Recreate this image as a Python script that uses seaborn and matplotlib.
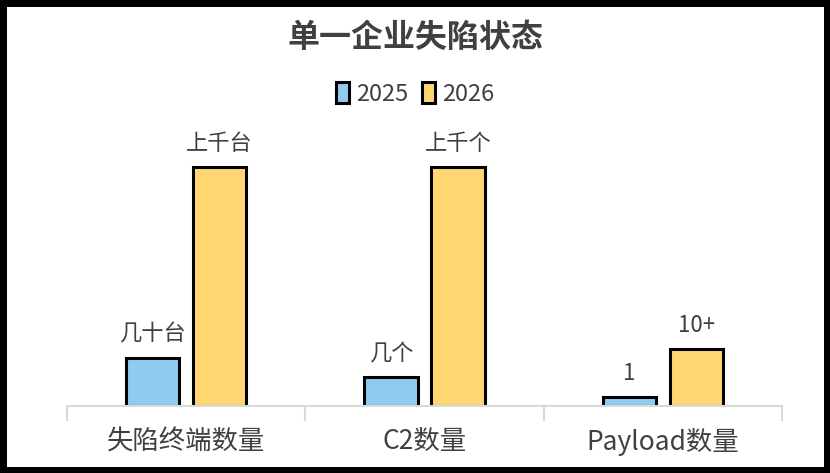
import matplotlib
matplotlib.use('Agg')
import matplotlib.pyplot as plt
import pandas as pd
import seaborn as sns


categories = ['失陷终端数量', 'C2数量', 'Payload数量']
years = ['2025', '2026']
values_2025 = [48, 29, 9]
values_2026 = [239, 239, 57]
labels_2025 = ['几十台', '几个', '1']
labels_2026 = ['上千台', '上千个', '10+']
colors = ['#8FCBEE', '#FFD772']


df = pd.DataFrame({
    'category': categories * 2,
    'year': [years[0]] * 3 + [years[1]] * 3,
    'value': values_2025 + values_2026,
})

sns.set_theme(style='white')
plt.rcParams['font.family'] = ['Noto Sans CJK SC', 'DejaVu Sans']
text_color = '#404040'

fig = plt.figure(figsize=(8.3, 4.73), dpi=100, edgecolor='black', linewidth=8)
ax = fig.add_axes([67 / 830, 67 / 473, 715 / 830, 250 / 473])

sns.barplot(data=df, x='category', y='value', hue='year', hue_order=years,
            palette=colors, width=0.56, gap=0.2, edgecolor='black',
            linewidth=2.2, saturation=1, ax=ax)

for container, labs in zip(ax.containers, [labels_2025, labels_2026]):
    ax.bar_label(container, labels=labs, padding=9, fontsize=16, color=text_color)

ax.set_xlim(-0.5, 2.5)
ax.set_ylim(0, 250)
ax.set_xlabel('')
ax.set_ylabel('')
ax.set_yticks([])
for side in ['top', 'right', 'left']:
    ax.spines[side].set_visible(False)
ax.spines['bottom'].set_color('#D9D9D9')
ax.spines['bottom'].set_linewidth(1.5)
ax.set_xticks([-0.5, 0.5, 1.5, 2.5], minor=True)
ax.tick_params(axis='x', which='minor', length=11, width=1.5, color='#D9D9D9', direction='out', bottom=True)
ax.tick_params(axis='x', which='major', length=0, pad=16, labelsize=19, labelcolor=text_color)

ax.legend(loc='center', bbox_to_anchor=(0.5, 1 - 94 / 473), bbox_transform=fig.transFigure,
          ncol=2, frameon=False, fontsize=17, handlelength=0.55, handleheight=1.0,
          handletextpad=0.3, columnspacing=0.6, labelcolor=text_color)

fig.text(0.5, 1 - 38 / 473, '单一企业失陷状态', ha='center', va='center',
         fontsize=23, fontweight='bold', color=text_color)

fig.savefig('out.png', dpi=100)
